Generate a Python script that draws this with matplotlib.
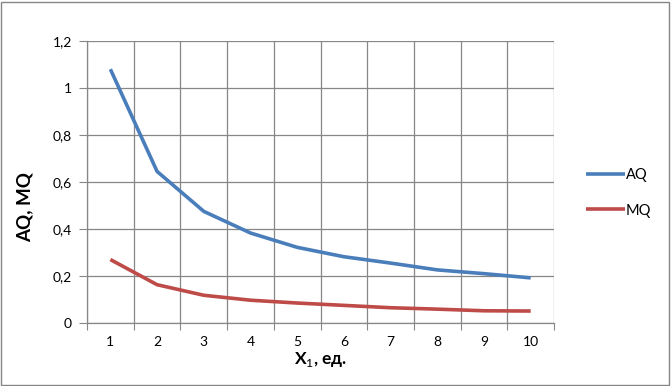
import matplotlib
matplotlib.use("Agg")
import matplotlib.pyplot as plt
from matplotlib.patches import Rectangle
import numpy as np

plt.rcParams['font.family'] = ['Lato', 'DejaVu Sans']
plt.rcParams['mathtext.fontset'] = 'custom'
plt.rcParams['mathtext.rm'] = 'Lato'
plt.rcParams['mathtext.bf'] = 'Lato:bold'

# data
x_labels = ['1', '2', '3', '4', '5', '6', '7', '8', '9', '10']
aq = [1.08, 0.645, 0.475, 0.383, 0.322, 0.282, 0.255, 0.226, 0.21, 0.192]
mq = [0.27, 0.163, 0.118, 0.097, 0.085, 0.075, 0.065, 0.059, 0.052, 0.051]
y_ticks = [0, 0.2, 0.4, 0.6, 0.8, 1.0, 1.2]
y_tick_labels = ['0', '0,2', '0,4', '0,6', '0,8', '1', '1,2']

grid_col = '#878787'

fig = plt.figure(figsize=(6.71, 3.86), dpi=100)
ax = fig.add_axes([0.1297, 0.1632, 0.696, 0.7306])

xs = np.arange(1, len(x_labels) + 1)
ax.plot(xs, aq, color='#4A7EBB', lw=2.6, label='AQ', solid_capstyle='butt')
ax.plot(xs, mq, color='#BE4B48', lw=2.6, label='MQ', solid_capstyle='butt')

ax.set_xlim(0.5, len(x_labels) + 0.5)
ax.set_ylim(0, 1.2)

# category boundaries carry ticks and grid, labels sit in the middle
ax.set_xticks(np.arange(0.5, len(x_labels) + 1, 1))
ax.set_xticklabels([])
ax.set_xticks(xs, minor=True)
ax.set_xticklabels(x_labels, minor=True)
ax.tick_params(axis='x', which='major', length=5, color=grid_col, direction='out')
ax.tick_params(axis='x', which='minor', length=0, pad=9, labelsize=10)
ax.set_yticks(y_ticks)
ax.set_yticklabels(y_tick_labels)
ax.tick_params(axis='y', length=6, color=grid_col, direction='out', pad=5, labelsize=10)

ax.grid(True, which='major', color=grid_col, lw=0.9)
ax.set_axisbelow(True)
for s in ['top', 'right']:
    ax.spines[s].set_visible(False)
for s in ['left', 'bottom']:
    ax.spines[s].set_color(grid_col)
    ax.spines[s].set_linewidth(0.9)

ax.set_xlabel(r'X$_1$, ед.', fontsize=12.5, fontweight='bold', labelpad=2)
ax.set_ylabel('AQ, MQ', fontsize=13.5, fontweight='bold')
ax.yaxis.set_label_coords(-0.115, 0.411)

ax.legend(loc='center left', bbox_to_anchor=(1.04, 0.461), frameon=False,
          fontsize=10.5, handlelength=2.7, handletextpad=0.05, labelspacing=1.45)

fig.patches.append(Rectangle((0.002, 0.003), 0.995, 0.993, transform=fig.transFigure,
                             fill=False, edgecolor='#868686', lw=1.0))

fig.savefig('out.png', dpi=100)
